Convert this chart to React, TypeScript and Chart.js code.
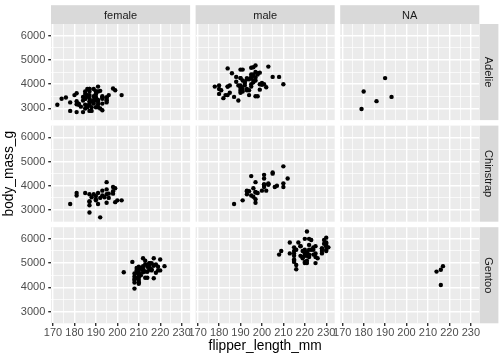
import React, { useEffect, useRef } from 'react';
import { Chart, registerables } from 'chart.js';

Chart.register(...registerables);
Chart.defaults.font.family = '"Liberation Sans", Arial, sans-serif';

// ---- categories & ticks ----
const speciesRows = ['Adelie', 'Chinstrap', 'Gentoo'];
const sexCols = ['female', 'male', 'NA'];
const xTickValues = [170, 180, 190, 200, 210, 220, 230];
const yTickValues = [3000, 4000, 5000, 6000];
// minor grid positions (ggplot draws them halfway between major breaks)
const xMinorValues = [175, 185, 195, 205, 215, 225];
const yMinorValues = [3500, 4500, 5500];

// ---- data: flipper_length_mm / body_mass_g per facet ----
const adelieFemaleFlipper = [186, 195, 193, 181, 182, 185, 195, 184, 174, 189, 187, 187, 172, 178, 188, 195, 180, 181, 182, 186, 185, 190, 186, 190, 187, 186, 181, 185, 185, 184, 195, 190, 190, 196, 190, 191, 187, 189, 187, 191, 189, 190, 202, 185, 187, 190, 178, 192, 183, 193, 199, 181, 198, 193, 191, 188, 189, 187, 176, 186, 191, 191, 190, 193, 187, 191, 185, 193, 188, 192, 184, 195, 187];
const adelieFemaleMass = [3800, 3250, 3450, 3625, 3200, 3700, 3450, 3325, 3400, 3800, 3800, 3200, 3150, 3250, 3300, 3325, 3550, 3300, 3150, 3100, 3000, 3450, 3500, 3450, 2900, 3550, 2850, 3150, 3600, 2850, 3350, 3050, 3600, 3550, 3700, 3700, 3550, 3200, 3800, 3350, 3500, 3600, 3550, 3400, 3300, 3700, 2900, 3725, 3075, 2925, 3750, 3175, 3825, 3200, 3900, 2900, 3350, 3150, 3450, 3050, 3275, 3050, 3325, 3500, 3425, 3175, 3400, 3400, 3050, 3000, 3475, 3450, 3700];

const adelieMaleFlipper = [181, 190, 195, 191, 198, 197, 194, 180, 185, 180, 183, 180, 178, 184, 196, 190, 184, 195, 196, 190, 182, 191, 188, 200, 191, 193, 194, 195, 192, 192, 188, 198, 190, 197, 195, 184, 195, 196, 193, 194, 190, 189, 205, 186, 208, 196, 192, 203, 190, 184, 190, 197, 191, 197, 196, 199, 189, 198, 202, 199, 195, 210, 197, 199, 190, 200, 193, 187, 190, 185, 190, 193, 201];
const adelieMaleMass = [3750, 3650, 4675, 3800, 4400, 4500, 4200, 3600, 3950, 3800, 3550, 3950, 3900, 3900, 4150, 3950, 4650, 3900, 4400, 4600, 3425, 4150, 4300, 4050, 3700, 3800, 3750, 4400, 4050, 3950, 4100, 4450, 3900, 4150, 4250, 3900, 4000, 4700, 4200, 3550, 3800, 3950, 4300, 4450, 4300, 4350, 4100, 4725, 4250, 3550, 3900, 4775, 4600, 4275, 4075, 3775, 3325, 3500, 3875, 4000, 4300, 4000, 3500, 4475, 3900, 3975, 4250, 3475, 3725, 3650, 4250, 3750, 4000];

const adelieNAFlipper = [193, 190, 186, 180, 179];
const adelieNAMass = [3475, 4250, 3300, 3700, 2975];

const chinstrapFemaleFlipper = [192, 188, 198, 178, 195, 193, 185, 190, 181, 190, 181, 187, 195, 200, 191, 187, 187, 199, 195, 192, 187, 196, 196, 190, 198, 199, 193, 187, 191, 194, 189, 195, 202, 198];
const chinstrapFemaleMass = [3500, 3525, 3950, 3250, 4150, 3800, 3700, 3575, 3700, 3450, 3600, 2900, 3300, 3400, 3700, 3200, 3350, 3900, 3850, 2700, 3650, 3500, 3675, 3400, 3675, 3325, 3600, 3350, 3250, 3525, 3650, 3650, 3400, 3775];

const chinstrapMaleFlipper = [196, 193, 197, 197, 198, 194, 201, 201, 197, 195, 191, 193, 197, 200, 205, 201, 203, 195, 210, 205, 210, 196, 201, 212, 187, 201, 203, 197, 203, 202, 206, 207, 193, 210];
const chinstrapMaleMass = [3900, 3650, 3725, 3750, 3700, 3775, 4050, 4050, 3300, 4400, 3400, 3800, 4150, 3800, 4550, 4300, 4100, 3600, 4800, 4500, 3950, 3550, 4450, 4300, 3250, 3950, 4050, 3450, 4050, 3800, 3950, 4000, 3775, 4100];

const chinstrapNAFlipper: number[] = [];
const chinstrapNAMass: number[] = [];

const gentooFemaleFlipper = [211, 210, 210, 211, 209, 214, 214, 210, 210, 209, 215, 213, 215, 210, 209, 207, 220, 213, 208, 208, 210, 217, 210, 213, 210, 210, 217, 208, 208, 208, 214, 219, 220, 216, 217, 216, 209, 215, 212, 212, 212, 218, 212, 218, 212, 214, 222, 203, 219, 215, 210, 208, 216, 213, 217, 214, 215, 212];
const gentooFemaleMass = [4500, 4450, 4550, 4800, 4400, 4650, 4650, 4200, 4150, 4800, 5000, 4400, 5000, 4600, 4700, 5050, 5150, 4950, 4350, 3950, 4300, 4900, 4200, 5100, 4850, 4400, 4900, 4300, 4450, 4200, 4400, 4700, 4700, 4750, 5200, 4700, 4600, 4750, 4625, 4725, 4750, 4600, 4875, 4950, 4750, 4850, 4875, 4625, 4850, 4975, 4700, 4575, 5000, 4650, 4375, 4925, 4850, 5200];

const gentooMaleFlipper = [230, 218, 215, 219, 215, 216, 213, 217, 221, 222, 218, 215, 215, 215, 220, 222, 230, 220, 219, 208, 225, 216, 222, 225, 215, 220, 225, 220, 220, 224, 221, 231, 230, 229, 223, 221, 221, 230, 220, 223, 221, 224, 228, 218, 230, 228, 224, 226, 216, 225, 228, 228, 215, 219, 209, 229, 230, 230, 222, 222, 213];
const gentooMaleMass = [5700, 5700, 5400, 5200, 5150, 5550, 5850, 5850, 6300, 5350, 5700, 5050, 5100, 5650, 5550, 5250, 6050, 5400, 5250, 5350, 5700, 4750, 5550, 5400, 5300, 5300, 5000, 5050, 5000, 5550, 5300, 5650, 5700, 5800, 5550, 5000, 5100, 5800, 6000, 5950, 5450, 5350, 5600, 5300, 5550, 5400, 5650, 5200, 4925, 5250, 5600, 5500, 5500, 5500, 5500, 5950, 5500, 5850, 6000, 5750, 5400];

const gentooNAFlipper = [216, 214, 216, 217];
const gentooNAMass = [4100, 4650, 4725, 4875];

const facetFlipper = [
  [adelieFemaleFlipper, adelieMaleFlipper, adelieNAFlipper],
  [chinstrapFemaleFlipper, chinstrapMaleFlipper, chinstrapNAFlipper],
  [gentooFemaleFlipper, gentooMaleFlipper, gentooNAFlipper],
];
const facetMass = [
  [adelieFemaleMass, adelieMaleMass, adelieNAMass],
  [chinstrapFemaleMass, chinstrapMaleMass, chinstrapNAMass],
  [gentooFemaleMass, gentooMaleMass, gentooNAMass],
];

// ---- layout ----
const CW = 504;
const CH = 360;
const X_MIN = 169.05;
const X_MAX = 233.95;
const Y_MIN = 2520;
const Y_MAX = 6480;
const PANEL_LEFT = 51;
const PANEL_TOP = 24;
const PANEL_W = 139.1;
const PANEL_H = 96.1;
const GAP = 5.5;
const STRIP_TOP = 5.2;
const STRIP_RIGHT = 498.4;
const FONT = '"Liberation Sans", Arial, sans-serif';

const allX = [...xTickValues, ...xMinorValues].sort((a, b) => a - b);
const allY = [...yTickValues, ...yMinorValues].sort((a, b) => a - b);

function decorPlugin(r: number, c: number) {
  return {
    id: 'panelDecor' + r + c,
    beforeDraw(chart: any) {
      const { ctx, chartArea: a } = chart;
      ctx.save();
      ctx.fillStyle = '#EBEBEB';
      ctx.fillRect(a.left, a.top, a.right - a.left, a.bottom - a.top);
      ctx.restore();
    },
    afterDraw(chart: any) {
      const { ctx, chartArea: a } = chart;
      ctx.save();
      ctx.font = '11px ' + FONT;
      if (r === 0) {
        ctx.fillStyle = '#D9D9D9';
        ctx.fillRect(a.left, STRIP_TOP, a.right - a.left, a.top - STRIP_TOP);
        ctx.fillStyle = '#1A1A1A';
        ctx.textAlign = 'center';
        ctx.textBaseline = 'alphabetic';
        ctx.fillText(sexCols[c], (a.left + a.right) / 2, 19.2);
      }
      if (c === 2) {
        const sx = a.right + 0.3;
        ctx.fillStyle = '#D9D9D9';
        ctx.fillRect(sx, a.top, STRIP_RIGHT - sx, a.bottom - a.top);
        ctx.fillStyle = '#1A1A1A';
        ctx.translate(485, (a.top + a.bottom) / 2);
        ctx.rotate(Math.PI / 2);
        ctx.textAlign = 'center';
        ctx.textBaseline = 'alphabetic';
        ctx.fillText(speciesRows[r], 0, 0);
      }
      ctx.restore();
    },
  };
}

function makeConfig(r: number, c: number): any {
  const L = PANEL_LEFT + c * (PANEL_W + GAP);
  const T = PANEL_TOP + r * (PANEL_H + GAP);
  const showX = r === 2;
  const showY = c === 0;
  const yW = showY ? L : 0;
  const xH = showX ? CH - (T + PANEL_H) : 0;
  const xs = facetFlipper[r][c];
  const ys = facetMass[r][c];
  const points = xs.map((x, i) => ({ x, y: ys[i] }));
  const isMajorX = (v: number) => xTickValues.includes(v);
  const isMajorY = (v: number) => yTickValues.includes(v);
  return {
    type: 'scatter',
    data: {
      datasets: [
        {
          data: points,
          backgroundColor: '#000000',
          borderWidth: 0,
          pointRadius: 2.2,
          pointHoverRadius: 2.2,
        },
      ],
    },
    options: {
      animation: false,
      responsive: false,
      events: [],
      layout: {
        autoPadding: false,
        padding: {
          left: L - yW,
          top: T,
          right: CW - (L + PANEL_W),
          bottom: CH - (T + PANEL_H) - xH,
        },
      },
      plugins: {
        legend: { display: false },
        tooltip: { enabled: false },
      },
      scales: {
        x: {
          type: 'linear',
          position: 'bottom',
          min: X_MIN,
          max: X_MAX,
          afterBuildTicks: (s: any) => {
            s.ticks = allX.map((v) => ({ value: v }));
          },
          afterFit: (s: any) => {
            s.height = xH;
            s.paddingLeft = 0;
            s.paddingRight = 0;
            s.paddingTop = 0;
            s.paddingBottom = 0;
          },
          border: { display: false },
          grid: {
            color: '#FFFFFF',
            lineWidth: (ctx: any) => (ctx.tick && isMajorX(ctx.tick.value) ? 1.4 : 0.7),
            drawTicks: showX,
            tickLength: 2.75,
            tickWidth: 1.4,
            tickColor: (ctx: any) => (ctx.tick && isMajorX(ctx.tick.value) ? '#333333' : 'rgba(0,0,0,0)'),
          },
          ticks: {
            display: showX,
            autoSkip: false,
            maxRotation: 0,
            minRotation: 0,
            padding: 1.2,
            color: '#4D4D4D',
            font: { size: 11, lineHeight: 1 },
            callback: (v: number) => (isMajorX(v) ? String(v) : ''),
          },
          title: {
            display: r === 2 && c === 1,
            text: 'flipper_length_mm',
            color: '#000000',
            font: { size: 13.75 },
            padding: { top: 0, bottom: 6 },
          },
        },
        y: {
          type: 'linear',
          position: 'left',
          min: Y_MIN,
          max: Y_MAX,
          afterBuildTicks: (s: any) => {
            s.ticks = allY.map((v) => ({ value: v }));
          },
          afterFit: (s: any) => {
            s.width = yW;
            s.paddingLeft = 0;
            s.paddingRight = 0;
            s.paddingTop = 0;
            s.paddingBottom = 0;
          },
          border: { display: false },
          grid: {
            color: '#FFFFFF',
            lineWidth: (ctx: any) => (ctx.tick && isMajorY(ctx.tick.value) ? 1.4 : 0.7),
            drawTicks: showY,
            tickLength: 2.75,
            tickWidth: 1.4,
            tickColor: (ctx: any) => (ctx.tick && isMajorY(ctx.tick.value) ? '#333333' : 'rgba(0,0,0,0)'),
          },
          ticks: {
            display: showY,
            autoSkip: false,
            padding: 3,
            color: '#4D4D4D',
            font: { size: 11, lineHeight: 1 },
            callback: (v: number) => (isMajorY(v) ? String(v) : ''),
          },
          title: {
            display: r === 1 && c === 0,
            text: 'body_mass_g',
            color: '#000000',
            font: { size: 13.75 },
            padding: { top: 1.45, bottom: 0 },
          },
        },
      },
    },
    plugins: [decorPlugin(r, c)],
  };
}

function Panel({ r, c }: { r: number; c: number }) {
  const ref = useRef<HTMLCanvasElement | null>(null);
  useEffect(() => {
    if (!ref.current) return;
    const chart = new Chart(ref.current, makeConfig(r, c));
    return () => chart.destroy();
  }, [r, c]);
  return (
    <canvas
      ref={ref}
      width={CW}
      height={CH}
      style={{ position: 'absolute', left: 0, top: 0, width: CW, height: CH, pointerEvents: 'none' }}
    />
  );
}

export default function App() {
  const panels = [];
  for (let r = 0; r < 3; r++) {
    for (let c = 0; c < 3; c++) {
      panels.push(<Panel key={r + '-' + c} r={r} c={c} />);
    }
  }
  return (
    <div
      style={{
        position: 'absolute',
        left: 0,
        top: 0,
        width: CW,
        height: CH,
        background: '#FFFFFF',
        overflow: 'hidden',
      }}
    >
      {panels}
    </div>
  );
}
